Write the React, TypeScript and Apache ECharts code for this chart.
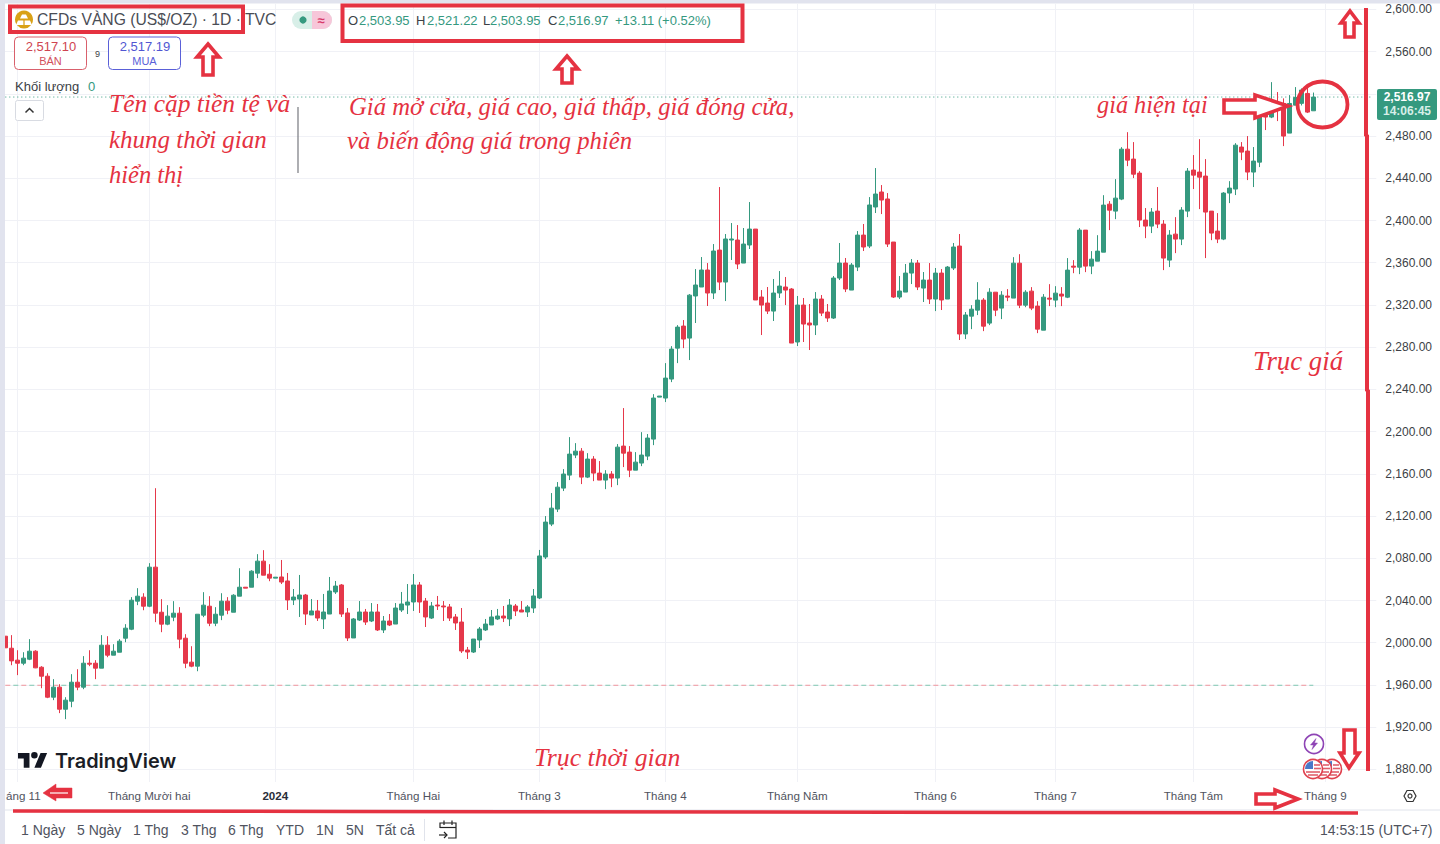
import React, { useEffect, useRef } from "react";
import * as echarts from "echarts";

// Each row: [open, close, low, high]
const candlesLate2023 = [
  [2006.2,1995.2,1995.2,2006.2],[1994.8,1982.8,1978.7,2007.2],[1983.5,1980.6,1969.3,1992.9],[1980.6,1985.4,1978.7,1991],
  [1984.4,1992,1983.5,2003.4],[1992,1976.2,1975.9,1992.9],[1976.8,1968.3,1956.9,1977.8],[1968.3,1948.4,1947.5,1971.1],
  [1948.4,1957.9,1945.6,1965.5],[1957.9,1937,1933.3,1960.7],[1937,1945.6,1927.6,1948.4],[1944.6,1962.6,1938.9,1970.2],
  [1962.6,1957.9,1955,1974.9],[1957.9,1980.6,1956,1987.3],[1980.6,1979.7,1977.8,1992.9],[1980.6,1975.9,1965.5,1983.5],
  [1975.9,1997.7,1975.9,2007.2],[1997.7,1988.2,1986.3,2006.2],[1988.2,1992,1988.2,1998.6],[1991,2001.5,1991,2003.4],
  [2004.3,2013.8,2000.5,2017.6],[2012.8,2040.3,2011.9,2043.2],[2039.4,2044.1,2035.6,2051.7],[2043.2,2034.6,2030.8,2046.9],
  [2034.6,2071.6,2033.7,2075.4],[2071.6,2028,2019.5,2146.4],[2028.9,2017.6,2010,2041.3],[2017.6,2025.2,2016.6,2035.6],
  [2024.2,2028,2020.4,2039.4],[2028,2003.4,1994.8,2033.7],[2004.3,1980.6,1975.9,2008.1],[1981.6,1977.8,1976.8,1996.7],
  [1977.8,2027,1973,2027],[2026.1,2035.6,2024.2,2047.9],[2034.6,2018.5,2015.7,2044.1],[2018.5,2027,2015.7,2033.7],
  [2026.1,2039.4,2021.4,2046.9],[2039.4,2030.8,2027,2043.2],[2028.9,2045,2028.9,2046],[2044.1,2052.6,2044.1,2070.6],
  [2052.6,2051.7,2051.7,2052.6],[2052.6,2067.8,2052.6,2068.7],[2065.9,2077.3,2061.2,2083.9],[2077.3,2064,2064,2087.7],
  [2064.9,2061.2,2058.3,2074.4],[2061.2,2062.1,2061.2,2062.1],
];
const candlesEarly2024 = [
  [2062.3,2057.5,2055.6,2078.4],[2058.5,2040.5,2031,2066.1],[2040.5,2043.3,2035.7,2050.9],[2041.4,2045.2,2024.4,2064.2],
  [2045.2,2027.2,2016.8,2046.2],[2026.3,2030.1,2026.3,2041.4],[2030.1,2023.4,2020.6,2040.5],[2022.5,2029.1,2013,2046.2],
  [2027.2,2049,2027.2,2062.3],[2048.1,2053.7,2046.2,2058.5],[2054.7,2027.2,2024.4,2055.6],[2028.2,2004.5,2001.6,2032.9],
  [2004.5,2022.5,2004.5,2023.4],[2021.5,2029.1,2020.6,2039.5],[2029.1,2019.6,2016.8,2032],[2020.6,2029.1,2019.6,2037.6],
  [2029.1,2012.1,2011.1,2036.7],[2012.1,2020.6,2009.2,2025.3],[2020.6,2016.8,2015.8,2027.2],[2017.7,2032.9,2017.7,2037.6],
  [2031,2036.7,2029.1,2048.1],[2035.7,2038.6,2027.2,2055.6],[2038.6,2054.7,2030.1,2065.1],[2054.7,2038.6,2028.2,2057.5],
  [2039.5,2024.4,2014.9,2042.4],[2023.4,2034.8,2022.5,2038.6],[2035.7,2034.8,2031,2044.3],[2034.8,2033.9,2020.6,2039.5],
  [2033.9,2023.4,2020.6,2036.7],[2024.4,2018.7,2012.1,2027.2],[2019.6,1992.2,1990.3,2032.9],[1993.1,1991.2,1984.6,1996],
  [1991.2,2003.5,1990.3,2003.5],[2002.6,2013,1995,2014.9],[2012.1,2017.7,2011.1,2022.5],[2016.8,2024.4,2016.8,2031],
  [2022.5,2025.3,2021.5,2032],[2025.3,2023.4,2019.6,2034.8],[2022.5,2035.7,2015.8,2041.4],[2034.8,2030.1,2025.3,2036.7],
  [2031,2029.1,2029.1,2039.5],[2029.1,2033.9,2024.4,2035.7],[2032.9,2044.3,2028.2,2050.9],[2042.4,2082.2,2041.4,2087.9],
];
const candlesSpring2024 = [
  [2081.2,2114.3,2079.3,2120],[2112.4,2127.5,2110.5,2141.8],[2126.6,2147.4,2123.8,2152.2],[2146.5,2159.8,2143.7,2164.5],
  [2158.8,2178.7,2154.1,2194.8],[2177.8,2181.5,2174.9,2189.1],[2181.5,2156.9,2150.3,2184.4],[2156.9,2174,2156,2179.6],
  [2174,2160.7,2153.1,2176.8],[2160.7,2154.1,2154.1,2172.1],[2154.1,2159.8,2145.5,2163.5],[2159.8,2156,2147.4,2162.6],
  [2156,2185.3,2149.3,2188.2],[2186.3,2179.6,2166.4,2222.3],[2180.6,2163.5,2156.9,2186.3],[2163.5,2171.1,2163.5,2180.6],
  [2170.2,2177.8,2167.3,2199.5],[2176.8,2193.9,2173,2197.7],[2192.9,2231.8,2187.2,2235.5],[2232.7,2233.7,2232.7,2233.7],
  [2231.8,2250.7,2228,2264.9],[2249.8,2278.2,2246.9,2281],[2279.1,2299,2264.9,2300.9],[2300,2287.7,2279.1,2305.7],
  [2288.6,2329.3,2267.8,2330.3],[2328.5,2338.9,2302.9,2354],[2337,2353.1,2337,2365.4],[2353.1,2331.3,2319,2359.7],
  [2331.3,2371.1,2325.6,2377.7],[2372,2341.7,2334.1,2431.7],[2341.7,2382.5,2323.7,2387.2],[2381.5,2382.5,2362.6,2397.6],
  [2381.5,2358.8,2354,2395.7],[2359.7,2377.7,2359.7,2392.9],[2376.8,2391.9,2373,2417.5],[2391.9,2324.7,2324.7,2391.9],
];
const candlesMidYear2024 = [
  [2327.5,2319.9,2291.5,2334.1],[2321.8,2314.2,2311.4,2337],[2314.2,2331.3,2304.8,2344.6],[2331.3,2337.9,2326.6,2352.1],
  [2337,2334.1,2319.9,2346.5],[2335.1,2283.9,2283.9,2336],[2284.9,2319.9,2281.1,2328.5],[2319.9,2301.9,2284.9,2326.6],
  [2302.9,2301,2277.3,2320.9],[2301,2325.6,2291.5,2332.2],[2325.6,2312.3,2309.5,2329.4],[2313.3,2307.6,2303.9,2320.9],
  [2307.6,2345.5,2306.7,2347.4],[2345.5,2359.7,2343.6,2378.7],[2359.7,2335.1,2332.2,2364.5],[2334.1,2357.8,2334.1,2359.7],
  [2355.9,2386.2,2352.1,2390],[2386.2,2374.9,2371.1,2396.7],[2375.8,2414.7,2373.9,2422.2],[2412.8,2425.1,2407.1,2449.7],
  [2427,2419.4,2406.1,2433.6],[2420.4,2377.7,2374.9,2426],[2379.6,2327.5,2326.6,2379.6],[2327.5,2333.2,2325.6,2347.4],
  [2332.2,2350.2,2332.2,2358.8],[2350.2,2359.7,2339.8,2363.5],[2359.7,2337,2334.1,2362.6],[2336,2343.6,2322.8,2351.2],
  [2343.6,2325.6,2320.9,2359.7],[2325.6,2350.2,2314.2,2355],[2350.2,2324.7,2315.2,2354],[2325.6,2355.9,2325.6,2356.9],
  [2355,2374.9,2353.1,2378.7],[2375.8,2292.5,2286.8,2387.2],[2292.5,2310.5,2287.7,2313.3],
];
const candlesSummer2024 = [
  [2309.4,2316,2297.1,2319.8],[2315.1,2324.6,2310.4,2341.6],[2324.6,2299.9,2295.2,2326.5],[2302.8,2332.1,2300.9,2335.9],
  [2332.1,2315.1,2309.4,2332.1],[2317,2329.3,2306.6,2333.1],[2328.4,2327.4,2323.6,2335],[2326.5,2359.6,2326.5,2365.3],
  [2359.6,2319.8,2317,2368.1],[2319.8,2332.1,2317.9,2334],[2333.1,2317,2315.1,2336.9],[2318.9,2297.1,2293.3,2323.6],
  [2296.1,2327.4,2296.1,2330.3],[2326.5,2325.5,2318.9,2339.7],[2324.6,2331.2,2317.9,2337.8],[2330.3,2328.4,2318.9,2336.9],
  [2327.4,2353,2326.5,2364.4],[2356.8,2355.8,2350.1,2362.5],[2355.8,2390.9,2349.2,2392.8],[2390.9,2356.8,2351.1,2390.9],
  [2356.8,2363.4,2349.2,2371],[2361.5,2371,2361.5,2386.1],[2370,2414.6,2370,2424],[2415.5,2409.8,2390.9,2418.4],
  [2408.9,2421.2,2401.3,2439.2],[2420.3,2467.6,2419.3,2469.5],[2467.6,2457.2,2451.5,2483.7],[2458.2,2443.9,2440.2,2474.3],
  [2444.9,2400.4,2393.8,2446.8],[2400.4,2394.7,2383.3,2411.8],[2394.7,2408,2388.1,2411.8],[2408.9,2396.6,2392.8,2431.7],
  [2396.6,2364.4,2353,2400.4],[2362.5,2386.2,2355.9,2390.9],[2387.1,2382.4,2369.1,2403.2],[2382.4,2409.9,2376.7,2412.7],
  [2408.9,2446.8,2403.2,2449.7],[2447.8,2443,2429.8,2462],[2445.9,2441.1,2410.8,2477.1],[2442.1,2408,2364.4,2458.2],
  [2408.9,2388.1,2381.4,2408.9],[2390,2382.4,2378.6,2407],[2382.4,2426,2381.4,2426.9],[2426,2430.7,2416.5,2437.3],
  [2429.8,2471.4,2424.1,2473.3],[2469.6,2464.8,2457.2,2474.3],[2465.8,2445.9,2438.3,2480],[2445.9,2456.3,2431.7,2469.6],
  [2455.3,2506.5,2450.6,2509.3],[2507.4,2498,2485.7,2508.4],[2498,2510.9,2497,2531.1],[2510.9,2504.6,2494.2,2521.7],
  [2510.9,2480,2470.5,2515.7],[2482.8,2510.9,2482.8,2518.8],[2509.3,2516.6,2509.3,2526.4],[2511,2523.6,2509,2525.1],
  [2520.4,2502.7,2501.8,2527.3],[2503.95,2516.97,2503.95,2521.22],
];

const priceTicks = [1880,1920,1960,2000,2040,2080,2120,2160,2200,2240,2280,2320,2360,2400,2440,2480,2520,2560,2600];
const priceLabels = priceTicks.filter((p) => p !== 2520);
const monthTickIndexes = [2,24,45,68,89,110,132,155,175,198,220];
const monthTickLabels = ["áng 11","Tháng Mười hai","2024","Tháng Hai","Tháng 3","Tháng 4","Tháng Năm","Tháng 6","Tháng 7","Tháng Tám","Tháng 9"];
const currentPrice = 2516.97;
const baselinePrice = 1959.7;
const lastBarIndex = 218;
const lastSlotIndex = 228;
const rangeButtons: [string, number][] = [["1 Ngày",21],["5 Ngày",77],["1 Thg",133],["3 Thg",181],["6 Thg",228],["YTD",276],["1N",316],["5N",346],["Tất cả",376]];

const GREEN = "#35997f";
const RED = "#e5384a";
const ANN = "#e53241";
const INK = "#3c3f46";
const SANS = "'Liberation Sans', Arial, sans-serif";
const script = (size: number) => `italic ${size}px 'Liberation Serif', serif`;
const Z = 100;

echarts.graphic.registerShape("tvLogo", echarts.graphic.extendPath("M14 22H7V11H0V4h14v18zM28 22h-8l7.5-18h8L28 22zM20 11a4 4 0 1 0 0-8 4 4 0 0 0 0 8z", {}));

const txt = (text: string, x: number, y: number, font: string, fill: string, textAlign = "left", z = Z + 2) => ({
  type: "text", z, style: { text, x, y, font, fill, textAlign, textVerticalAlign: "middle" },
});
const poly = (pts: number[][], fill: string, stroke = ANN, lineWidth = 3.6, z = Z + 1) => ({
  type: "polygon", z, shape: { points: pts }, style: { fill, stroke, lineWidth, lineJoin: "miter" },
});
const lineEl = (x1: number, y1: number, x2: number, y2: number, stroke: string, lineWidth: number, z = Z) => ({
  type: "line", z, shape: { x1, y1, x2, y2 }, style: { stroke, lineWidth },
});
const flag = (cx: number, cy: number, z: number) => [
  { type: "circle", z, shape: { cx, cy, r: 9.5 }, style: { fill: "#fff", stroke: "#e0424f", lineWidth: 1.6 } },
  { type: "sector", z: z + 1, shape: { cx, cy, r: 8, r0: 0, startAngle: Math.PI, endAngle: Math.PI * 1.5 }, style: { fill: "#4a78c8" } },
  lineEl(cx + 1, cy - 4, cx + 7, cy - 4, "#e0606c", 1.6, z + 1),
  lineEl(cx + 1, cy - 0.5, cx + 8, cy - 0.5, "#e0606c", 1.6, z + 1),
  lineEl(cx - 7, cy + 3, cx + 7, cy + 3, "#e0606c", 1.6, z + 1),
  lineEl(cx - 5, cy + 6, cx + 5, cy + 6, "#e0606c", 1.6, z + 1),
];

function buildGraphics() {
  const g: any[] = [
    // window edges and panel separators
    { type: "rect", z: Z, shape: { x: 0, y: 0, width: 1440, height: 3.5 }, style: { fill: "#e1e3ee" } },
    { type: "rect", z: Z, shape: { x: 0, y: 0, width: 5, height: 844 }, style: { fill: "#e1e3ee" } },
    lineEl(5, 810, 1440, 810, "#e0e3eb", 1),
    // header legend
    { type: "circle", z: Z, shape: { cx: 24, cy: 19.5, r: 9 }, style: { fill: "#d9a116" } },
    poly([[20, 18.5], [22, 14.5], [26, 14.5], [28, 18.5]], "#fff", "#fff", 0, Z + 2),
    poly([[16, 25], [18, 20.5], [23.4, 20.5], [23.4, 25]], "#fff", "#fff", 0, Z + 2),
    poly([[24.6, 25], [24.6, 20.5], [30, 20.5], [32, 25]], "#fff", "#fff", 0, Z + 2),
    txt("CFDs VÀNG (US$/OZ) · 1D · TVC", 37, 19.5, `15.7px ${SANS}`, "#4a4d55"),
    { type: "rect", z: Z, shape: { x: 292, y: 11, width: 40, height: 18, r: 9 }, style: { fill: "#d8efe8" } },
    { type: "rect", z: Z, shape: { x: 312, y: 11, width: 20, height: 18, r: [0, 9, 9, 0] }, style: { fill: "#f7c6d9" } },
    { type: "circle", z: Z, shape: { cx: 303, cy: 20, r: 3.6 }, style: { fill: GREEN } },
    txt("≈", 321, 20, `bold 13px ${SANS}`, "#d8386a", "center"),
    txt("O", 348, 20, `13px ${SANS}`, INK),
    txt("2,503.95", 359, 20, `13px ${SANS}`, GREEN),
    txt("H", 416, 20, `13px ${SANS}`, INK),
    txt("2,521.22", 427, 20, `13px ${SANS}`, GREEN),
    txt("L", 483, 20, `13px ${SANS}`, INK),
    txt("2,503.95", 490, 20, `13px ${SANS}`, GREEN),
    txt("C", 548, 20, `13px ${SANS}`, INK),
    txt("2,516.97", 558, 20, `13px ${SANS}`, GREEN),
    txt("+13.11 (+0.52%)", 615, 20, `13px ${SANS}`, GREEN),
    // sell / buy
    { type: "rect", z: Z, shape: { x: 14.5, y: 37, width: 72, height: 32.5, r: 4 }, style: { fill: "#fff", stroke: "#d9606c", lineWidth: 1 } },
    txt("2,517.10", 51, 46, `13px ${SANS}`, "#cf4450", "center"),
    txt("BÁN", 50.5, 60.5, `11px ${SANS}`, "#d2505c", "center"),
    txt("9", 97.5, 53.5, `9px ${SANS}`, INK, "center"),
    { type: "rect", z: Z, shape: { x: 108.5, y: 37, width: 72, height: 32.5, r: 4 }, style: { fill: "#fff", stroke: "#5a60d8", lineWidth: 1 } },
    txt("2,517.19", 145, 46, `13px ${SANS}`, "#5156d2", "center"),
    txt("MUA", 144.5, 60.5, `11px ${SANS}`, "#5a60d8", "center"),
    txt("Khối lượng", 15, 86.5, `13px ${SANS}`, INK),
    txt("0", 88, 86.5, `13px ${SANS}`, GREEN),
    { type: "rect", z: Z, shape: { x: 15.5, y: 100.5, width: 28, height: 20, r: 2 }, style: { fill: "#fff", stroke: "#d8dbe2", lineWidth: 1 } },
    { type: "polyline", z: Z + 1, shape: { points: [[25.5, 112.5], [29.5, 108.5], [33.5, 112.5]] }, style: { stroke: "#333", lineWidth: 1.5, fill: "none" } },
    // price tag
    { type: "rect", z: Z, shape: { x: 1377, y: 89, width: 60, height: 31, r: 2 }, style: { fill: GREEN } },
    txt("2,516.97", 1407, 97, `bold 12px ${SANS}`, "#fff", "center"),
    txt("14:06:45", 1407, 111, `bold 12px ${SANS}`, "#d7efe8", "center"),
    // TradingView mark
    { type: "tvLogo", z: Z, x: 18, y: 749.6, scaleX: 0.82, scaleY: 0.82, style: { fill: "#131722" } },
    txt("TradingView", 55, 761, `600 19.9px Inter, ${SANS}`, "#1a1d26"),
    // bottom toolbar
    ...rangeButtons.map(([t, x]) => txt(t, x, 830, `14px ${SANS}`, "#50535e")),
    lineEl(424.5, 819, 424.5, 841, "#e0e3eb", 1),
    { type: "polyline", z: Z, shape: { points: [[440, 828], [440, 823], [456, 823], [456, 838], [448, 838]] }, style: { stroke: "#222", lineWidth: 1.2, fill: "none" } },
    lineEl(440, 827.5, 456, 827.5, "#222", 1.2),
    lineEl(444, 820.5, 444, 825, "#222", 1.2),
    lineEl(452, 820.5, 452, 825, "#222", 1.2),
    { type: "polyline", z: Z, shape: { points: [[439, 835], [447, 835]] }, style: { stroke: "#222", lineWidth: 1.2, fill: "none" } },
    { type: "polyline", z: Z, shape: { points: [[444, 832], [447, 835], [444, 838]] }, style: { stroke: "#222", lineWidth: 1.2, fill: "none" } },
    txt("14:53:15 (UTC+7)", 1320, 830, `14px ${SANS}`, "#50535e"),
    // axis settings icon
    poly([[1404, 796], [1407, 790.5], [1413, 790.5], [1416, 796], [1413, 801.5], [1407, 801.5]], "#fff", "#333", 1.2, Z),
    { type: "circle", z: Z, shape: { cx: 1410, cy: 796, r: 2 }, style: { fill: "#fff", stroke: "#333", lineWidth: 1.2 } },
    // events
    { type: "circle", z: Z, shape: { cx: 1314, cy: 744, r: 9.5 }, style: { fill: "#fff", stroke: "#8e44b5", lineWidth: 1.6 } },
    poly([[1316, 738.5], [1310.5, 745], [1313.5, 745], [1312, 749.5], [1317.5, 743], [1314.5, 743]], "#8e44b5", "#8e44b5", 0.5, Z),
    ...flag(1332, 769, Z + 1),
    ...flag(1322, 769, Z + 3),
    ...flag(1313, 769, Z + 5),
    // red annotations
    { type: "rect", z: Z + 1, shape: { x: 10, y: 6.5, width: 233, height: 25.5 }, style: { fill: "none", stroke: ANN, lineWidth: 4 } },
    { type: "rect", z: Z + 1, shape: { x: 342.5, y: 5.5, width: 400, height: 35.5 }, style: { fill: "none", stroke: ANN, lineWidth: 4 } },
    poly([[208, 44], [219, 57], [213, 57], [213, 75], [203, 75], [203, 57], [197, 57]], "#fff"),
    poly([[567, 56], [578, 69], [572, 69], [572, 83], [562, 83], [562, 69], [556, 69]], "#fff"),
    poly([[1350, 11], [1359, 23], [1354, 23], [1354, 37], [1345, 37], [1345, 23], [1341, 23]], "#fff"),
    poly([[1344, 730], [1355, 730], [1355, 753], [1359, 753], [1349, 768], [1340, 753], [1344, 753]], "#fff"),
    poly([[1224, 100], [1255, 100], [1255, 95], [1288, 106], [1255, 118], [1255, 113], [1224, 113]], "#fff"),
    poly([[1256, 794], [1275, 794], [1275, 790], [1298, 799], [1275, 808], [1275, 804], [1256, 804]], "#fff"),
    poly([[43, 793], [56, 784], [56, 788], [72, 788], [72, 798], [56, 798], [56, 801]], ANN, ANN, 0.5),
    lineEl(50, 793, 68, 793, "#fff", 1.2, Z + 2),
    { type: "ellipse", z: Z + 2, shape: { cx: 1322.5, cy: 104.5, rx: 25, ry: 23 }, style: { fill: "none", stroke: ANN, lineWidth: 3.8 } },
    { type: "polyline", z: Z + 1, shape: { points: [[1366, 8], [1366, 135], [1367, 136], [1367, 390], [1368, 391], [1368, 771]] }, style: { stroke: ANN, lineWidth: 4, fill: "none" } },
    { type: "polyline", z: Z + 1, shape: { points: [[13, 811], [351, 811.5], [1022, 812.5], [1358, 813]] }, style: { stroke: ANN, lineWidth: 3.5, fill: "none" } },
    lineEl(298, 107, 298, 173, "#77797f", 1.2),
    txt("Tên cặp tiền tệ và", 109, 103, script(25.5), ANN),
    txt("khung thời gian", 109, 139, script(25), ANN),
    txt("hiển thị", 109, 174, script(24.5), ANN),
    txt("Giá mở cửa, giá cao, giá thấp, giá đóng cửa,", 349, 106, script(24.7), ANN),
    txt("và biến động giá trong phiên", 347, 140, script(24.7), ANN),
    txt("giá hiện tại", 1097, 104, script(24.3), ANN),
    txt("Trục giá", 1253, 361, script(26.8), ANN),
    txt("Trục thời gian", 534, 757, script(25.7), ANN),
  ];
  return g;
}

const refLine = (toIndex: number, y: number, color: string, dash: number[], dashOffset: number) => ({
  type: "line",
  data: [[0, y], [toIndex, y]],
  showSymbol: false,
  silent: true,
  z: 1,
  lineStyle: { color, type: dash, dashOffset, width: 1, opacity: 1 },
});

export default function App() {
  const ref = useRef<HTMLDivElement>(null);
  useEffect(() => {
    document.body.style.margin = "0";
    const chart = echarts.init(ref.current!, null, { renderer: "svg" });
    const candles = [...candlesLate2023, ...candlesEarly2024, ...candlesSpring2024, ...candlesMidYear2024, ...candlesSummer2024];
    const categories = Array.from({ length: 229 }, (_, i) => {
      const k = monthTickIndexes.indexOf(i);
      return k >= 0 ? monthTickLabels[k] : "";
    });
    const isTick = (i: number) => monthTickIndexes.includes(i);
    chart.setOption({
      animation: false,
      backgroundColor: "#ffffff",
      grid: { left: 2.3, top: 4, width: 1374, height: 778, containLabel: false },
      xAxis: {
        type: "category",
        data: categories,
        boundaryGap: true,
        axisLine: { show: false },
        axisTick: { show: false },
        splitLine: { show: true, interval: (i: number) => isTick(i), alignWithLabel: true, lineStyle: { color: "#f0f1f6", width: 1 } },
        axisLabel: {
          interval: (i: number) => isTick(i),
          margin: 7,
          fontFamily: "Liberation Sans",
          fontSize: 11.6,
          color: "#50535e",
          hideOverlap: false,
          formatter: (v: string) => (v === "2024" ? "{y|2024}" : v === "áng 11" ? "{c|áng 11}" : v),
          rich: {
            y: { fontWeight: "bold", fontFamily: "Liberation Sans", fontSize: 11.6, color: "#2a2e39" },
            c: { fontFamily: "Liberation Sans", fontSize: 11.6, color: "#50535e", padding: [0, 0, 0, 12] },
          },
        },
      },
      yAxis: {
        type: "value",
        position: "right",
        min: 1868.06,
        max: 2605.12,
        scale: true,
        axisLine: { show: false },
        axisTick: { show: false, customValues: priceTicks },
        splitLine: { show: true, lineStyle: { color: "#f0f1f6", width: 1 } },
        axisLabel: {
          customValues: priceLabels,
          margin: 9,
          fontFamily: "Liberation Sans",
          fontSize: 12,
          color: "#3c3f46",
          padding: [0, 0, 4, 0],
          formatter: (v: number) => v.toLocaleString("en-US", { minimumFractionDigits: 2, maximumFractionDigits: 2 }),
        },
      },
      series: [
        {
          type: "candlestick",
          data: candles,
          barWidth: 5,
          itemStyle: { color: GREEN, color0: RED, borderColor: GREEN, borderColor0: RED, borderWidth: 1 },
        },
        refLine(lastSlotIndex, currentPrice, GREEN, [1, 3], 0),
        refLine(lastBarIndex, baselinePrice, "#f0959d", [5, 11], 0),
        refLine(lastBarIndex, baselinePrice, "#7fc7b1", [5, 11], 8),
      ],
      graphic: { elements: buildGraphics() },
    });
    return () => chart.dispose();
  }, []);
  return <div ref={ref} style={{ position: "fixed", left: 0, top: 0, width: 1440, height: 844 }} />;
}
